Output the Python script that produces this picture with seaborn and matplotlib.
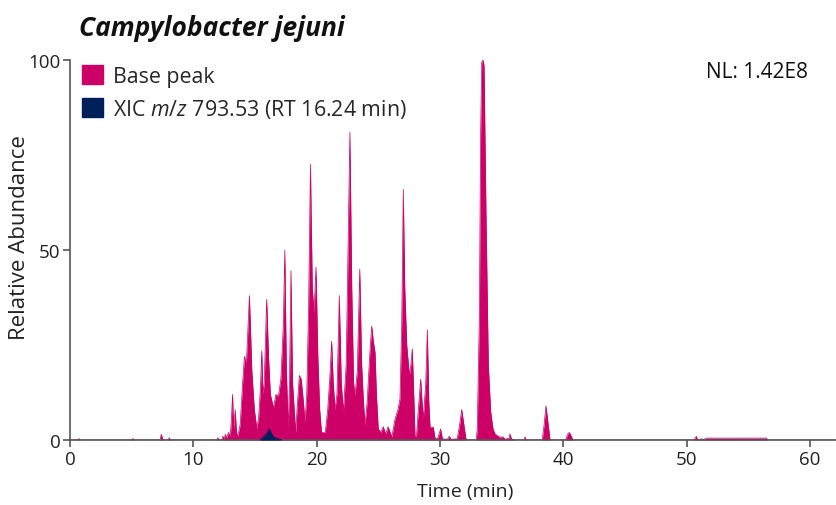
import numpy as np
import pandas as pd
import seaborn as sns
import matplotlib
matplotlib.use("Agg")
import matplotlib.pyplot as plt
from matplotlib.patches import Patch

# ---- data ----
base_time = [0.0, 0.65, 0.73, 0.8, 5.0, 5.1, 5.2, 7.3, 7.4, 7.5, 7.55, 7.95, 8.05, 8.15,
             11.9, 12.0, 12.1, 12.3, 12.4, 12.5, 12.6, 12.7, 12.85, 13.0, 13.1, 13.18, 13.28,
             13.4, 13.5, 13.6, 13.8, 14.0, 14.15, 14.3, 14.55, 14.75, 14.95, 15.15, 15.3,
             15.45, 15.55, 15.65, 15.75, 15.95, 16.1, 16.25, 16.5, 16.7, 16.9, 17.1, 17.3,
             17.42, 17.55, 17.7, 17.8, 17.92, 18.05, 18.3, 18.45, 18.6, 18.75, 18.9, 19.06,
             19.2, 19.35, 19.5, 19.65, 19.79, 19.95, 20.1, 20.25, 20.4, 20.7, 20.9, 21.1,
             21.22, 21.35, 21.49, 21.65, 21.84, 22.0, 22.17, 22.4, 22.55, 22.7, 22.85, 23.0,
             23.11, 23.3, 23.5, 23.65, 23.8, 23.92, 24.1, 24.3, 24.47, 24.6, 24.74, 24.85,
             25.0, 25.2, 25.4, 25.6, 25.8, 26.1, 26.36, 26.6, 26.76, 26.9, 27.03, 27.15,
             27.31, 27.52, 27.65, 27.76, 27.9, 27.98, 28.1, 28.25, 28.44, 28.55, 28.65,
             28.85, 28.98, 29.1, 29.2, 29.46, 29.6, 29.8, 30.06, 30.2, 30.6, 30.76, 30.9,
             31.4, 31.6, 31.77, 31.9, 32.1, 32.2, 32.95, 33.03, 33.2, 33.3, 33.39, 33.5,
             33.58, 33.74, 33.93, 34.12, 34.3, 34.47, 34.8, 35.12, 35.3, 35.6, 35.68, 35.8,
             36.1, 36.8, 36.9, 37.0, 38.3, 38.45, 38.6, 38.75, 38.93, 40.2, 40.35, 40.5,
             40.65, 40.8, 50.6, 50.8, 50.9, 51.2, 51.4, 51.6, 56.5, 56.55, 62.0]
base_abund = [0, 0, 0.4, 0, 0, 0.4, 0, 0, 1.5, 0.5, 0, 0, 0.6, 0,
              0, 0.6, 0, 0, 1.0, 0.3, 1.5, 0.5, 2, 1, 6, 12, 3,
              8, 2, 1, 4, 15, 22, 20, 38, 18, 8, 3, 6,
              14, 23.5, 12, 15, 37, 22, 12, 8.5, 12, 11.5, 16, 30,
              50, 18, 3, 15, 44.6, 15, 2, 10, 17, 16, 11, 4.7,
              12, 35, 72.6, 40, 33.7, 45.5, 22, 8, 2, 2, 8, 18,
              26, 15, 8, 12, 38, 15, 7.4, 20, 50, 81, 40, 15,
              11.7, 18, 45, 20, 10, 3.8, 10, 22, 30, 26, 23, 12,
              2.9, 2, 3.5, 1.6, 3.5, 0.8, 5.5, 8, 10.8, 30, 66, 40,
              25, 17, 20, 24, 10, 1.1, 1, 8, 16, 10, 5.5,
              15, 29, 10, 3.4, 3.4, 0.5, 0.3, 2.9, 0.3, 0.2, 1.0, 0.2,
              0.3, 4, 8, 5, 0.5, 0, 0, 3, 32.7, 80, 99.4, 100,
              98.5, 59, 19.5, 7.4, 3, 1.6, 0.8, 0.8, 0.2, 0.5, 1.6, 0.3,
              0, 0, 0.8, 0, 0, 4, 9, 5, 0, 0, 1.5, 2,
              1, 0, 0, 1, 0, 0.3, 0.1, 0.5, 0.5, 0, 0]

xic_time = [15.4, 15.6, 15.8, 16.0, 16.15, 16.3, 16.5, 16.8, 17.2]
xic_abund = [0, 0.6, 1.2, 2.0, 3.0, 2.0, 0.8, 0.4, 0]

x_ticks = [0, 10, 20, 30, 40, 50, 60]
y_ticks = [0, 50, 100]
title = "Campylobacter jejuni"
legend_labels = ["Base peak", "XIC $\\mathit{m/z}$ 793.53 (RT 16.24 min)"]
nl_text = "NL: 1.42E8"

BASE_COLOR = "#cc0066"
XIC_COLOR = "#00205b"
FONT = "Open Sans"

sns.set_style("ticks")
plt.rcParams["font.family"] = [FONT, "DejaVu Sans"]
plt.rcParams["mathtext.fontset"] = "custom"
plt.rcParams["mathtext.it"] = FONT + ":italic"
plt.rcParams["mathtext.rm"] = FONT

W, H = 836, 506
fig = plt.figure(figsize=(W / 100, H / 100), dpi=100)
ax = fig.add_axes([70 / W, 65 / H, 1 - 70 / W, 380 / H])

base_df = pd.DataFrame({"time": base_time, "abund": base_abund})
xic_df = pd.DataFrame({"time": xic_time, "abund": xic_abund})

sns.lineplot(data=base_df, x="time", y="abund", ax=ax, color=BASE_COLOR,
             linewidth=0.5, estimator=None, zorder=2)
ax.fill_between(base_df["time"], base_df["abund"], 0, color=BASE_COLOR, lw=0, zorder=2)
sns.lineplot(data=xic_df, x="time", y="abund", ax=ax, color=XIC_COLOR,
             linewidth=0.5, estimator=None, zorder=3)
ax.fill_between(xic_df["time"], xic_df["abund"], 0, color=XIC_COLOR, lw=0, zorder=3)

ax.set_xlim(0, (W - 70) / 12.33)
ax.set_ylim(0, 100)
ax.set_xticks(x_ticks)
ax.set_yticks(y_ticks)
ax.spines["top"].set_visible(False)
ax.spines["right"].set_visible(False)
for s in ["left", "bottom"]:
    ax.spines[s].set_color("#555555")
    ax.spines[s].set_linewidth(1.2)
ax.spines["left"].set_bounds(0, 100)
ax.tick_params(axis="both", direction="out", length=5, width=1.2, color="#555555",
               labelsize=13.5, labelcolor="#222222", pad=2)
ax.set_xlabel("Time (min)", fontsize=14, color="#222222")
ax.set_ylabel("Relative Abundance", fontsize=16, color="#222222")
ax.xaxis.set_label_coords((465 - 70) / (W - 70), (441 - 492) / 380)
ax.yaxis.set_label_coords((20 - 70) / (W - 70), (441 - 238) / 380)
ax.xaxis.label.set_va("center")
ax.yaxis.label.set_va("center")
ax.set_facecolor("white")

handles = [Patch(facecolor=BASE_COLOR, edgecolor=BASE_COLOR),
           Patch(facecolor=XIC_COLOR, edgecolor=XIC_COLOR)]
ax.legend(handles, legend_labels, loc="upper left",
          bbox_to_anchor=((82 - 70) / (W - 70), (441 - 66) / 380),
          frameon=False, fontsize=15.4, handlelength=1.0, handleheight=1.0,
          handletextpad=0.45, labelspacing=0.45, borderaxespad=0.0, borderpad=0.0)

fig.text(79 / W, 1 - 28 / H, title, fontsize=19, fontweight="bold",
         fontstyle="italic", ha="left", va="center", color="#111111")
fig.text(808 / W, 1 - 72 / H, nl_text, fontsize=15, ha="right", va="center",
         color="#111111")

fig.savefig("out.png", dpi=100, facecolor="white")
